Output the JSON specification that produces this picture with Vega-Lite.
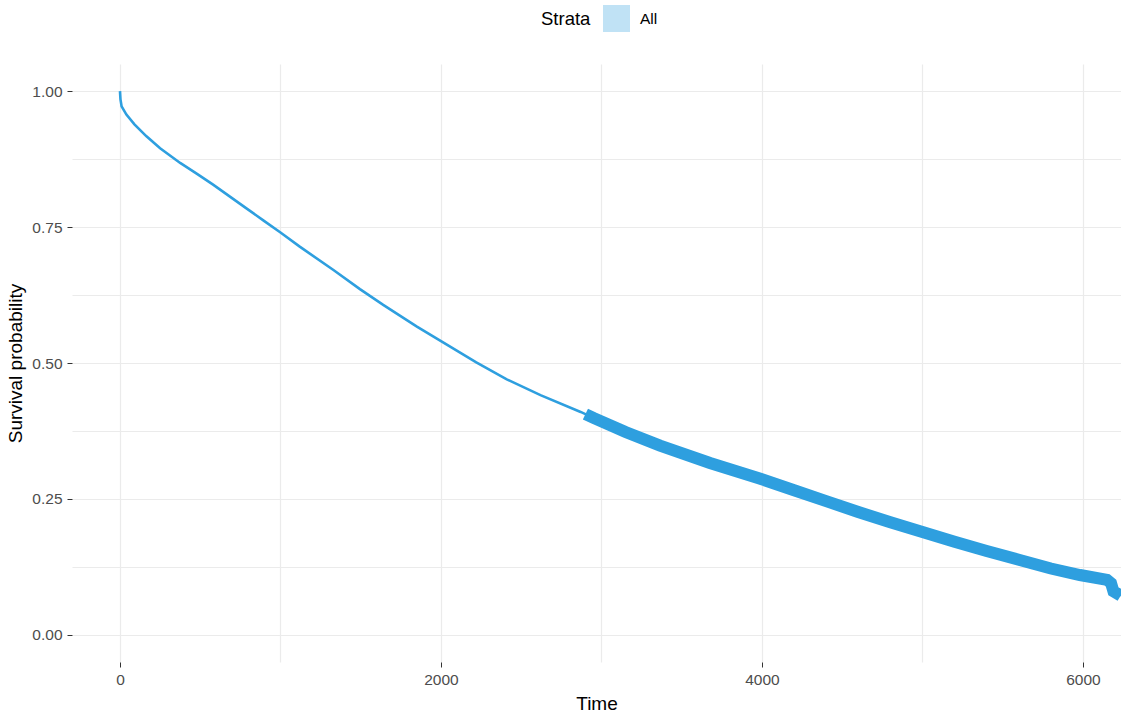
{
  "$schema": "https://vega.github.io/schema/vega-lite/v6.json",
  "width": 1049,
  "height": 598,
  "autosize": "none",
  "padding": {"left": 72, "top": 64, "right": 0, "bottom": 51},
  "background": "white",
  "config": {
    "view": {"stroke": null},
    "font": "Liberation Sans",
    "axis": {
      "domain": false,
      "gridColor": "#EBEBEB",
      "gridWidth": 1.2,
      "tickColor": "#333333",
      "tickWidth": 1,
      "tickSize": 5,
      "labelFont": "Liberation Sans",
      "labelFontSize": 15.5,
      "labelColor": "#4D4D4D",
      "titleFont": "Liberation Sans",
      "titleFontSize": 19,
      "titleFontWeight": "normal",
      "titleColor": "#000000"
    }
  },
  "data": {
    "values": [
      {"time": 0, "surv": 1.0, "strata": "All", "band": false},
      {"time": 3, "surv": 0.985, "strata": "All", "band": false},
      {"time": 10, "surv": 0.972, "strata": "All", "band": false},
      {"time": 40, "surv": 0.957, "strata": "All", "band": false},
      {"time": 90, "surv": 0.939, "strata": "All", "band": false},
      {"time": 165, "surv": 0.917, "strata": "All", "band": false},
      {"time": 250, "surv": 0.895, "strata": "All", "band": false},
      {"time": 375, "surv": 0.868, "strata": "All", "band": false},
      {"time": 480, "surv": 0.848, "strata": "All", "band": false},
      {"time": 580, "surv": 0.828, "strata": "All", "band": false},
      {"time": 685, "surv": 0.806, "strata": "All", "band": false},
      {"time": 790, "surv": 0.784, "strata": "All", "band": false},
      {"time": 895, "surv": 0.762, "strata": "All", "band": false},
      {"time": 1000, "surv": 0.740, "strata": "All", "band": false},
      {"time": 1120, "surv": 0.714, "strata": "All", "band": false},
      {"time": 1330, "surv": 0.671, "strata": "All", "band": false},
      {"time": 1495, "surv": 0.636, "strata": "All", "band": false},
      {"time": 1640, "surv": 0.607, "strata": "All", "band": false},
      {"time": 1850, "surv": 0.567, "strata": "All", "band": false},
      {"time": 1995, "surv": 0.541, "strata": "All", "band": false},
      {"time": 2220, "surv": 0.501, "strata": "All", "band": false},
      {"time": 2410, "surv": 0.470, "strata": "All", "band": false},
      {"time": 2620, "surv": 0.441, "strata": "All", "band": false},
      {"time": 2870, "surv": 0.410, "strata": "All", "band": false},
      {"time": 2900, "surv": 0.406, "strata": "All", "band": true},
      {"time": 2950, "surv": 0.399, "strata": "All", "band": true},
      {"time": 3150, "surv": 0.373, "strata": "All", "band": true},
      {"time": 3365, "surv": 0.348, "strata": "All", "band": true},
      {"time": 3676, "surv": 0.316, "strata": "All", "band": true},
      {"time": 3990, "surv": 0.287, "strata": "All", "band": true},
      {"time": 4200, "surv": 0.266, "strata": "All", "band": true},
      {"time": 4400, "surv": 0.246, "strata": "All", "band": true},
      {"time": 4600, "surv": 0.226, "strata": "All", "band": true},
      {"time": 4800, "surv": 0.207, "strata": "All", "band": true},
      {"time": 5000, "surv": 0.189, "strata": "All", "band": true},
      {"time": 5200, "surv": 0.171, "strata": "All", "band": true},
      {"time": 5400, "surv": 0.154, "strata": "All", "band": true},
      {"time": 5600, "surv": 0.138, "strata": "All", "band": true},
      {"time": 5800, "surv": 0.122, "strata": "All", "band": true},
      {"time": 5981, "surv": 0.110, "strata": "All", "band": true},
      {"time": 6150, "surv": 0.101, "strata": "All", "band": true},
      {"time": 6175, "surv": 0.095, "strata": "All", "band": true},
      {"time": 6190, "surv": 0.080, "strata": "All", "band": true},
      {"time": 6235, "surv": 0.072, "strata": "All", "band": true}
    ]
  },
  "encoding": {
    "x": {
      "field": "time",
      "type": "quantitative",
      "title": "Time",
      "scale": {"domain": [-299, 6237], "nice": false, "zero": false},
      "axis": {
        "values": [0, 1000, 2000, 3000, 4000, 5000, 6000],
        "format": "d",
        "labelExpr": "datum.value % 2000 === 0 ? datum.label : ''",
        "tickOpacity": {"condition": {"test": "datum.value % 2000 === 0", "value": 1}, "value": 0},
        "labelPadding": 5,
        "titlePadding": 7
      }
    },
    "y": {
      "field": "surv",
      "type": "quantitative",
      "title": "Survival probability",
      "scale": {"domain": [-0.05, 1.05], "nice": false, "zero": false},
      "axis": {
        "values": [0, 0.125, 0.25, 0.375, 0.5, 0.625, 0.75, 0.875, 1.0],
        "format": ".2f",
        "labelExpr": "round(datum.value * 8) % 2 === 0 ? datum.label : ''",
        "tickOpacity": {"condition": {"test": "round(datum.value * 8) % 2 === 0", "value": 1}, "value": 0},
        "labelPadding": 5,
        "titlePadding": 6
      }
    },
    "color": {
      "field": "strata",
      "type": "nominal",
      "title": "Strata",
      "scale": {"domain": ["All"], "range": ["#2E9FDF"]},
      "legend": {
        "orient": "none",
        "legendX": 469,
        "legendY": -59,
        "direction": "horizontal",
        "titleOrient": "left",
        "titleFontSize": 18.5,
        "titleFontWeight": "normal",
        "titleColor": "#000000",
        "titleFont": "Liberation Sans",
        "titlePadding": 12,
        "titleBaseline": "middle",
        "labelFont": "Liberation Sans",
        "labelFontSize": 15.5,
        "labelColor": "#000000",
        "labelOffset": 10,
        "symbolType": "square",
        "symbolSize": 729,
        "symbolStrokeWidth": 0,
        "encode": {
          "symbols": {
            "update": {
              "fill": {"value": "#C0E2F5"},
              "stroke": {"value": "transparent"},
              "strokeWidth": {"value": 0}
            }
          }
        }
      }
    }
  },
  "layer": [
    {
      "mark": {"type": "line", "strokeWidth": 2.6, "clip": true}
    },
    {
      "transform": [{"filter": "datum.band"}],
      "mark": {"type": "line", "strokeWidth": 12, "strokeCap": "butt", "clip": true}
    }
  ]
}
